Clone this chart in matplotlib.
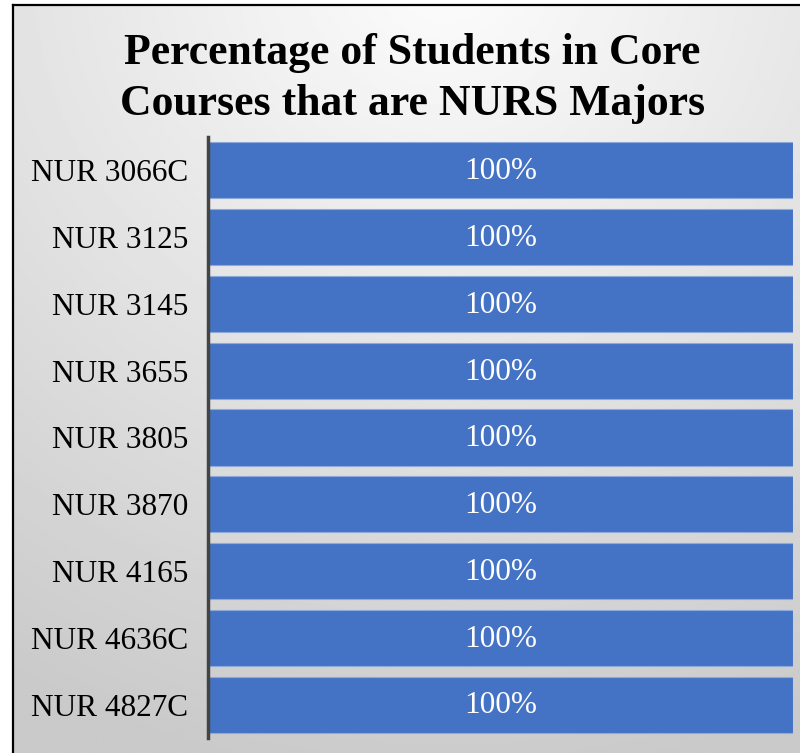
import numpy as np
import matplotlib.pyplot as plt
from matplotlib.lines import Line2D

courses = ["NUR 3066C", "NUR 3125", "NUR 3145", "NUR 3655", "NUR 3805",
           "NUR 3870", "NUR 4165", "NUR 4636C", "NUR 4827C"]
pct_nurs = [100, 100, 100, 100, 100, 100, 100, 100, 100]
bar_labels = ["100%"] * 9
title_lines = ["Percentage of Students in Core", "Courses that are NURS Majors"]

W, H = 800, 753
fig = plt.figure(figsize=(W / 100, H / 100), dpi=100)

# background: soft radial gray gradient inside a frame
x0, y1 = 13 / W, 1 - 5 / H
bg = fig.add_axes([0, 0, 1, 1])
bg.set_xlim(0, 1)
bg.set_ylim(0, 1)
bg.axis("off")
gx, gy = np.meshgrid(np.linspace(0, 1, 400), np.linspace(0, 1, 400))
dist = np.sqrt((gx - 0.55) ** 2 + (gy - 1.05) ** 2)
shade = 0.99 - 0.20 * np.clip(dist / 1.1, 0, 1)
bg.imshow(shade, cmap="gray", vmin=0, vmax=1, origin="lower",
          extent=[x0, 1, 0, y1], aspect="auto", interpolation="bilinear")
bg.add_line(Line2D([x0, x0], [0, y1], color="black", lw=1.6))
bg.add_line(Line2D([x0, 1], [y1, y1], color="black", lw=1.6))

# title, one line at a time so the baselines sit where they should
for line, base in zip(title_lines, [64, 115]):
    fig.text(412.5 / W, 1 - base / H, line, ha="center", va="baseline",
             fontsize=31.5, fontweight="bold", family="Liberation Serif")

ax = fig.add_axes([208 / W, 1 - 738 / H, (793 - 208) / W, (738 - 137) / H])
ax.patch.set_alpha(0)
ypos = np.arange(len(courses))
bars = ax.barh(ypos, pct_nurs, height=0.84, color="#4472C4",
               edgecolor="#8eaadb", linewidth=0.8)
for b, lab in zip(bars, bar_labels):
    ax.text(b.get_width() / 2, b.get_y() + b.get_height() / 2 + 0.02, lab,
            ha="center", va="center", color="white", fontsize=22.5,
            family="Liberation Serif")
ax.set_xlim(0, 100)
ax.set_ylim(len(courses) - 0.5, -0.5)
ax.set_yticks(ypos)
ax.set_yticklabels(courses, fontsize=22.5, family="Liberation Serif")
ax.tick_params(axis="y", length=0, pad=14)
ax.set_xticks([])
for s in ["top", "right", "bottom"]:
    ax.spines[s].set_visible(False)
ax.spines["left"].set_color("#444444")
ax.spines["left"].set_linewidth(2.5)

fig.savefig("out.png", dpi=100)
